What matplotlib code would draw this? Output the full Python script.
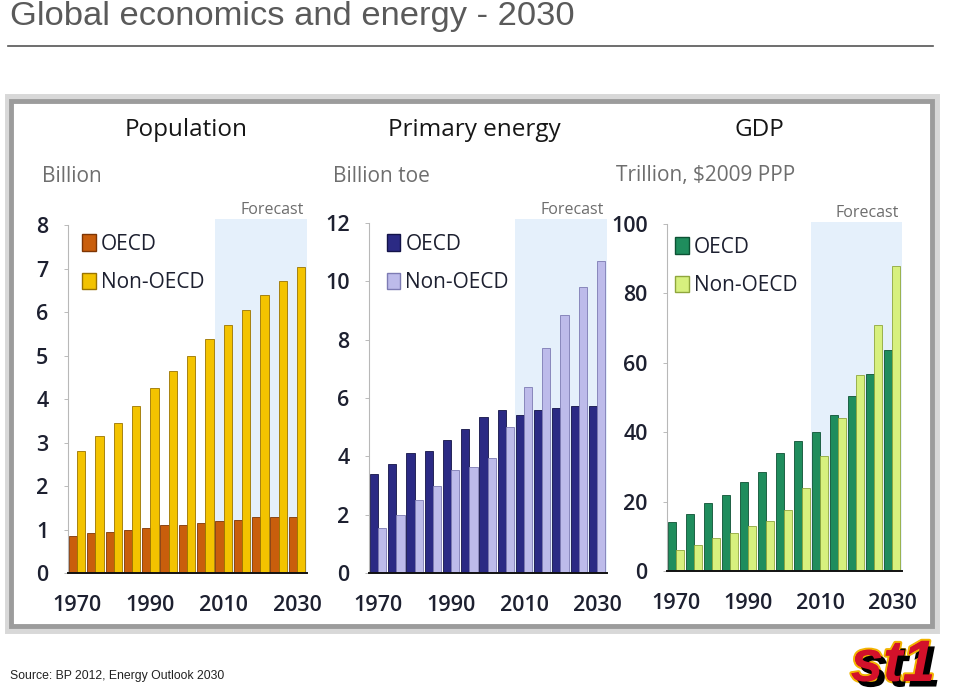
import matplotlib.pyplot as plt
import matplotlib.patheffects as pe
from matplotlib.patches import Rectangle, Patch
import numpy as np

# ---- data ----
years = [1970, 1975, 1980, 1985, 1990, 1995, 2000, 2005, 2010, 2015, 2020, 2025, 2030]
year_labels = ['1970', '1990', '2010', '2030']

pop_oecd = [0.86, 0.92, 0.95, 1.00, 1.04, 1.10, 1.10, 1.16, 1.20, 1.23, 1.29, 1.29, 1.29]
pop_non = [2.80, 3.14, 3.45, 3.83, 4.25, 4.65, 4.99, 5.37, 5.70, 6.05, 6.40, 6.71, 7.03]

energy_oecd = [3.40, 3.75, 4.10, 4.18, 4.57, 4.95, 5.35, 5.58, 5.43, 5.58, 5.65, 5.72, 5.72]
energy_non = [1.53, 1.98, 2.50, 2.97, 3.53, 3.62, 3.95, 5.00, 6.37, 7.73, 8.85, 9.80, 10.70]

gdp_oecd = [14.0, 16.5, 19.5, 22.0, 25.5, 28.5, 34.0, 37.5, 40.0, 45.0, 50.5, 56.8, 63.5]
gdp_non = [6.0, 7.5, 9.5, 11.0, 13.0, 14.5, 17.5, 24.0, 33.0, 44.0, 56.5, 70.8, 87.8]

W, H = 959, 699
FONT = 'Open Sans'


def fx(px):
    return px / W


def fy(py):
    return 1 - py / H


def bar_panel(fig, rect, oecd, non, ymax, yticks, top, colors, title, unit,
              title_x, unit_x, leg_x=-0.005):
    """ one of the three BP panels """
    ax = fig.add_axes(rect)
    x = np.arange(len(years))
    w = 0.45

    # forecast shading
    ax.axvspan(7.5, 12.7, color='#e5f0fb', zorder=0, lw=0)
    ax.text(12.4, top * 1.003, 'Forecast', ha='right', va='bottom', fontsize=11.5,
            color='#6d6d6d', family=FONT)

    ax.bar(x - w / 2, oecd, w, color=colors[0], edgecolor=colors[1], lw=0.6, zorder=2)
    ax.bar(x + w / 2, non, w, color=colors[2], edgecolor=colors[3], lw=0.6, zorder=2)

    ax.set_xlim(-0.5, 12.55)
    ax.set_ylim(0, top)
    ax.set_yticks(yticks)
    ax.set_yticklabels([str(v) for v in yticks])
    ax.set_xticks([0, 4, 8, 12])
    ax.set_xticklabels(year_labels)
    for lab in ax.get_xticklabels() + ax.get_yticklabels():
        lab.set_family(FONT)
        lab.set_fontsize(15.5)
        lab.set_weight('semibold')
        lab.set_color('#1d2030')
    ax.tick_params(axis='x', length=0, pad=16)
    ax.tick_params(axis='y', length=3, width=0.6, color='#b0b0b0', pad=11)

    for s in ['top', 'right']:
        ax.spines[s].set_visible(False)
    ax.spines['left'].set_color('#b8b8b8')
    ax.spines['left'].set_linewidth(0.8)
    ax.spines['left'].set_bounds(0, ymax)
    ax.spines['bottom'].set_color('#111111')
    ax.spines['bottom'].set_linewidth(1.4)
    ax.spines['bottom'].set_zorder(3)

    handles = [Patch(facecolor=colors[0], edgecolor=colors[1]),
               Patch(facecolor=colors[2], edgecolor=colors[3])]
    leg = ax.legend(handles, ['OECD', 'Non-OECD'], loc='upper left',
                    bbox_to_anchor=(leg_x, 1.012), frameon=False, handlelength=0.65,
                    handleheight=0.85, handletextpad=0.25, labelspacing=0.85,
                    prop={'family': FONT, 'size': 15})
    for t in leg.get_texts():
        t.set_color('#1d2030')

    fig.text(fx(title_x), fy(130), title, fontsize=17.5, family=FONT, color='#161616',
             ha='left', va='center')
    fig.text(fx(unit_x), fy(176), unit, fontsize=15, family=FONT, color='#6e6e6e',
             ha='left', va='center')
    return ax


fig = plt.figure(figsize=(W / 100, H / 100), dpi=100, facecolor='white')

# slide title and rule
fig.text(fx(10), fy(17), 'Global economics and energy - 2030', fontsize=24.8,
         family='Liberation Sans', color='#5a5a5a', ha='left', va='center')
fig.add_artist(plt.Line2D([fx(8), fx(933)], [fy(46), fy(46)], color='#555555', lw=1.2))

# picture frame with shadow
fig.add_artist(Rectangle((fx(8), fy(630)), fx(928), 533 / H, facecolor='none',
                         edgecolor='#d8d8d8', lw=5, zorder=0))
fig.add_artist(Rectangle((fx(11), fy(626)), fx(921), 525 / H, facecolor='white',
                         edgecolor='#9c9c9c', lw=3.5, zorder=0))

# panels
bar_panel(fig, [fx(68), fy(573), fx(239), 354 / H], pop_oecd, pop_non, 8,
          range(0, 9), 8.14, ['#c95e0c', '#7e3504', '#f3c300', '#9a7400'],
          'Population', 'Billion', 125, 42, leg_x=-0.02)
bar_panel(fig, [fx(369), fy(573), fx(238), 354 / H], energy_oecd, energy_non, 12,
          range(0, 13, 2), 12.14, ['#2b2a84', '#131348', '#bdbbea', '#7d7bb3'],
          'Primary energy', 'Billion toe', 388, 333)
bar_panel(fig, [fx(667), fy(571), fx(235), 349 / H], gdp_oecd, gdp_non, 100,
          range(0, 101, 20), 100.5, ['#1f8d5d', '#0d5234', '#d7f07e', '#8fa63c'],
          'GDP', 'Trillion, $2009 PPP', 735, 616, leg_x=-0.045)

# source and logo
fig.text(fx(10), fy(676), 'Source: BP 2012, Energy Outlook 2030', fontsize=8.8,
         family='Liberation Sans', color='#222222', ha='left', va='center')
fig.text(fx(893), fy(666), 'st1', fontsize=42, family='Liberation Sans', weight='bold',
         style='italic', color='#d3112a', ha='center', va='center',
         path_effects=[pe.withStroke(linewidth=3, foreground='#f2b400'),
                       pe.SimplePatchShadow(offset=(4, -4), shadow_rgbFace='black', alpha=1),
                       pe.Normal()])

fig.savefig('out.png', dpi=100)
